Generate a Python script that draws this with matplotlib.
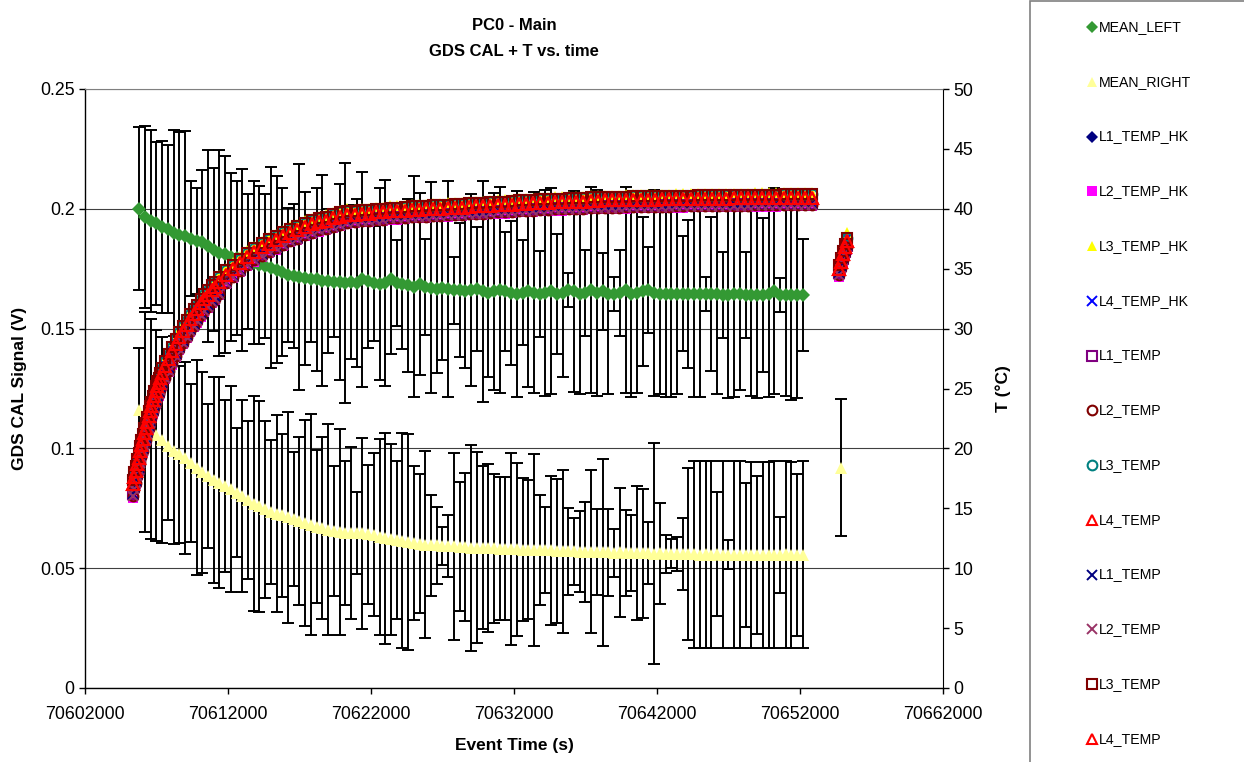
import numpy as np
import matplotlib
matplotlib.use("Agg")
import matplotlib.pyplot as plt
from matplotlib.lines import Line2D
from matplotlib.patches import Rectangle
from matplotlib.ticker import FuncFormatter, MultipleLocator

plt.rcParams['font.family'] = ['Liberation Sans', 'DejaVu Sans']

# ---------------- data ----------------
# GDS CAL means, sampled every 400 s starting at 70605800 s
mean_start = 70605800
mean_step = 400
mean_left = [
    0.200, 0.1965, 0.195, 0.194, 0.1925, 0.1915, 0.190, 0.189, 0.1885, 0.1875,
    0.1865, 0.186, 0.1845, 0.183, 0.1815, 0.181, 0.180, 0.1795, 0.1785, 0.178,
    0.1775, 0.1765, 0.176, 0.1755, 0.1745, 0.1735, 0.1725, 0.172, 0.1715, 0.171,
    0.1705, 0.1705, 0.170, 0.170, 0.1695, 0.1695, 0.169, 0.1695, 0.169, 0.1705,
    0.170, 0.169, 0.1685, 0.169, 0.1705, 0.169, 0.1685, 0.168, 0.1675, 0.1685,
    0.1675, 0.167, 0.1665, 0.167, 0.1665, 0.166, 0.166, 0.1655, 0.166, 0.1665,
    0.1655, 0.165, 0.1655, 0.166, 0.1655, 0.165, 0.1645, 0.165, 0.1655, 0.165,
    0.1645, 0.165, 0.1655, 0.1645, 0.165, 0.166, 0.1655, 0.1645, 0.165, 0.166,
    0.165, 0.1655, 0.1645, 0.1645, 0.165, 0.166, 0.1645, 0.165, 0.1655, 0.166,
    0.165, 0.1645, 0.1645, 0.1645, 0.1645, 0.1645, 0.1645, 0.1645, 0.1645, 0.1645,
    0.1645, 0.1645, 0.164, 0.164, 0.1645, 0.1645, 0.164, 0.164, 0.164, 0.164,
    0.1645, 0.1655, 0.164, 0.164, 0.164, 0.164, 0.164,
]
mean_left_err = [
    0.034, 0.038, 0.038, 0.034, 0.036, 0.035, 0.043, 0.043, 0.044, 0.024,
    0.022, 0.030, 0.040, 0.034, 0.043, 0.041, 0.035, 0.032, 0.038, 0.028,
    0.034, 0.033, 0.030, 0.042, 0.039, 0.035, 0.028, 0.030, 0.047, 0.036,
    0.026, 0.038, 0.044, 0.030, 0.023, 0.041, 0.050, 0.032, 0.035, 0.045,
    0.028, 0.024, 0.040, 0.043, 0.031, 0.018, 0.027, 0.036, 0.046, 0.038,
    0.020, 0.044, 0.035, 0.030, 0.045, 0.014, 0.028, 0.032, 0.040, 0.026,
    0.046, 0.035, 0.041, 0.043, 0.025, 0.030, 0.043, 0.022, 0.040, 0.042,
    0.018, 0.043, 0.043, 0.025, 0.035, 0.007, 0.042, 0.042, 0.018, 0.043,
    0.043, 0.016, 0.042, 0.007, 0.018, 0.043, 0.043, 0.042, 0.031, 0.018,
    0.043, 0.042, 0.043, 0.043, 0.042, 0.024, 0.031, 0.043, 0.043, 0.007,
    0.032, 0.042, 0.018, 0.043, 0.043, 0.040, 0.018, 0.042, 0.043, 0.032,
    0.043, 0.043, 0.007, 0.042, 0.044, 0.043, 0.0235,
]
mean_right = [
    0.116, 0.111, 0.108, 0.1055, 0.1035, 0.101, 0.099, 0.0975, 0.096, 0.094,
    0.092, 0.090, 0.0885, 0.087, 0.0857, 0.0843, 0.083, 0.0815, 0.080, 0.0785,
    0.077, 0.0758, 0.0746, 0.0735, 0.0728, 0.072, 0.0713, 0.0706, 0.0698, 0.069,
    0.0682, 0.0673, 0.0666, 0.066, 0.0655, 0.065, 0.0648, 0.0647, 0.0646, 0.0645,
    0.0642, 0.064, 0.063, 0.0625, 0.062, 0.0618, 0.0615, 0.061, 0.0605, 0.0602,
    0.0598, 0.0596, 0.0596, 0.0594, 0.0592, 0.0592, 0.059, 0.0588, 0.0586, 0.0586,
    0.0585, 0.0584, 0.0583, 0.0582, 0.0582, 0.0580, 0.0579, 0.0578, 0.0577, 0.0577,
    0.0575, 0.0576, 0.0574, 0.0572, 0.0571, 0.0570, 0.0570, 0.0569, 0.0568, 0.0568,
    0.0567, 0.0567, 0.0566, 0.0565, 0.0566, 0.0564, 0.0563, 0.0563, 0.0562, 0.0562,
    0.0561, 0.0562, 0.0560, 0.0560, 0.0559, 0.0558, 0.0559, 0.0558, 0.0557, 0.0558,
    0.0557, 0.0560, 0.0557, 0.0556, 0.0557, 0.0556, 0.0556, 0.0555, 0.0556, 0.0555,
    0.0555, 0.0556, 0.0555, 0.0558, 0.0555, 0.0555, 0.0556,
]
mean_right_err = [
    0.026, 0.046, 0.046, 0.044, 0.043, 0.031, 0.039, 0.037, 0.040, 0.033,
    0.045, 0.042, 0.030, 0.043, 0.044, 0.036, 0.043, 0.027, 0.040, 0.033,
    0.045, 0.044, 0.037, 0.030, 0.041, 0.034, 0.044, 0.028, 0.035, 0.043,
    0.046, 0.032, 0.038, 0.044, 0.027, 0.043, 0.030, 0.036, 0.017, 0.040,
    0.029, 0.034, 0.041, 0.044, 0.040, 0.033, 0.045, 0.045, 0.032, 0.029,
    0.039, 0.021, 0.016, 0.008, 0.013, 0.039, 0.027, 0.031, 0.043, 0.040,
    0.034, 0.035, 0.031, 0.030, 0.030, 0.040, 0.036, 0.030, 0.029, 0.040,
    0.023, 0.018, 0.031, 0.030, 0.034, 0.018, 0.014, 0.017, 0.021, 0.034,
    0.018, 0.039, 0.018, 0.010, 0.027, 0.018, 0.016, 0.028, 0.027, 0.013,
    0.046, 0.021, 0.008, 0.006, 0.007, 0.015, 0.036, 0.039, 0.039, 0.039,
    0.039, 0.026, 0.039, 0.006, 0.039, 0.039, 0.030, 0.039, 0.033, 0.039,
    0.039, 0.039, 0.016, 0.039, 0.039, 0.034, 0.039,
]
# isolated late MEAN_RIGHT point
late_time = [70654870]
late_right = [0.092]
late_right_err = [0.0285]

# temperature samples: offsets (s) from 70605350, then a short late segment
temp_start = 70605350
temp_offsets = np.concatenate([np.arange(0, 2001, 100),
                               np.arange(2250, 6001, 250),
                               np.arange(6500, 47501, 500)])
temp_late_times = [70654700, 70654850, 70655000, 70655150, 70655300]

t_L1_hk = [16.3, 16.9, 17.4, 18.0, 18.5, 19.1, 19.6, 20.1, 20.6, 21.0, 21.5, 22.0, 22.4, 22.8, 23.3, 23.7, 24.1, 24.5, 24.8, 25.2, 25.6,
           26.2, 26.8, 27.4, 28.0, 28.6, 29.1, 29.6, 30.1, 30.5, 30.9, 31.4, 31.8, 32.1, 32.5, 32.8, 33.2,
           34.0, 34.5, 35.0, 35.5, 35.9, 36.3, 36.6, 36.9, 37.2, 37.5, 37.7, 38.0, 38.2, 38.4, 38.5, 38.7, 38.85, 39.0,
           39.1, 39.2, 39.2, 39.3, 39.3, 39.4, 39.4, 39.45, 39.5, 39.5, 39.55, 39.6, 39.6, 39.65, 39.7, 39.7, 39.75, 39.8, 39.8,
           39.85, 39.9, 39.9, 39.95, 40.0, 40.0, 40.05, 40.1, 40.1, 40.15, 40.15, 40.2, 40.2, 40.2, 40.25, 40.25, 40.3, 40.3,
           40.3, 40.32, 40.33, 40.35, 40.36, 40.37, 40.38, 40.39, 40.4, 40.4, 40.41, 40.42, 40.43, 40.44, 40.45, 40.45, 40.46, 40.47, 40.47, 40.48, 40.48, 40.49, 40.49, 40.5, 40.5, 40.5, 40.5, 40.5,
           34.7, 35.3, 35.9, 36.5, 37.0]
t_L2_hk = [15.9, 16.5, 17.0, 17.6, 18.1, 18.7, 19.2, 19.7, 20.2, 20.6, 21.1, 21.6, 22.0, 22.4, 22.9, 23.3, 23.7, 24.1, 24.4, 24.8, 25.2,
           25.8, 26.4, 27.0, 27.6, 28.2, 28.7, 29.2, 29.7, 30.1, 30.5, 31.0, 31.4, 31.7, 32.1, 32.4, 32.8,
           33.7, 34.2, 34.7, 35.2, 35.6, 36.0, 36.3, 36.6, 36.9, 37.2, 37.4, 37.7, 37.9, 38.1, 38.2, 38.4, 38.55, 38.7,
           38.8, 38.9, 38.9, 39.0, 39.0, 39.1, 39.1, 39.15, 39.2, 39.2, 39.25, 39.3, 39.3, 39.35, 39.4, 39.4, 39.45, 39.5, 39.5,
           39.55, 39.6, 39.6, 39.65, 39.7, 39.7, 39.75, 39.8, 39.8, 39.85, 39.85, 39.9, 39.9, 39.9, 39.95, 39.95, 40.0, 40.0,
           40.0, 40.02, 40.03, 40.05, 40.06, 40.07, 40.08, 40.09, 40.1, 40.1, 40.11, 40.12, 40.13, 40.14, 40.15, 40.15, 40.16, 40.17, 40.17, 40.18, 40.18, 40.19, 40.19, 40.2, 40.2, 40.2, 40.2, 40.2,
           34.3, 34.9, 35.5, 36.1, 36.6]
t_L3_hk = [17.5, 18.1, 18.6, 19.2, 19.7, 20.3, 20.8, 21.3, 21.8, 22.2, 22.7, 23.2, 23.6, 24.0, 24.5, 24.9, 25.3, 25.7, 26.0, 26.4, 26.8,
           27.4, 28.0, 28.6, 29.2, 29.8, 30.3, 30.8, 31.3, 31.7, 32.1, 32.6, 33.0, 33.3, 33.7, 34.0, 34.4,
           34.95, 35.45, 35.95, 36.45, 36.85, 37.25, 37.55, 37.85, 38.15, 38.45, 38.65, 38.95, 39.15, 39.35, 39.45, 39.65, 39.8, 39.95,
           39.9, 40.0, 40.0, 40.1, 40.1, 40.2, 40.2, 40.25, 40.3, 40.3, 40.35, 40.4, 40.4, 40.45, 40.5, 40.5, 40.55, 40.6, 40.6,
           40.65, 40.7, 40.7, 40.75, 40.8, 40.8, 40.85, 40.9, 40.9, 40.95, 40.95, 41.0, 41.0, 41.0, 41.05, 41.05, 41.1, 41.1,
           41.1, 41.12, 41.13, 41.15, 41.16, 41.17, 41.18, 41.19, 41.2, 41.2, 41.21, 41.22, 41.23, 41.24, 41.25, 41.25, 41.26, 41.27, 41.27, 41.28, 41.28, 41.29, 41.29, 41.3, 41.3, 41.3, 41.3, 41.3,
           35.5, 36.1, 36.7, 37.3, 38.0]
t_L4_hk = [17.2, 17.8, 18.3, 18.9, 19.4, 20.0, 20.5, 21.0, 21.5, 21.9, 22.4, 22.9, 23.3, 23.7, 24.2, 24.6, 25.0, 25.4, 25.7, 26.1, 26.5,
           27.0, 27.6, 28.2, 28.8, 29.3, 29.8, 30.3, 30.8, 31.2, 31.6, 32.0, 32.4, 32.7, 33.1, 33.4, 33.7,
           34.3, 34.8, 35.3, 35.8, 36.2, 36.6, 36.9, 37.2, 37.5, 37.8, 38.0, 38.3, 38.5, 38.7, 38.8, 39.0, 39.15, 39.3,
           39.2, 39.3, 39.3, 39.4, 39.4, 39.5, 39.5, 39.55, 39.6, 39.6, 39.65, 39.7, 39.7, 39.75, 39.8, 39.8, 39.85, 39.9, 39.9,
           39.95, 40.0, 40.0, 40.05, 40.1, 40.1, 40.15, 40.2, 40.2, 40.25, 40.25, 40.3, 40.3, 40.3, 40.35, 40.35, 40.4, 40.4,
           40.4, 40.42, 40.43, 40.45, 40.46, 40.47, 40.48, 40.49, 40.5, 40.5, 40.51, 40.52, 40.53, 40.54, 40.55, 40.55, 40.56, 40.57, 40.57, 40.58, 40.58, 40.59, 40.59, 40.6, 40.6, 40.6, 40.6, 40.6,
           35.2, 35.8, 36.4, 37.0, 37.6]
t_L1 = [16.2, 16.8, 17.3, 17.9, 18.4, 19.0, 19.5, 20.0, 20.5, 20.9, 21.4, 21.9, 22.3, 22.7, 23.2, 23.6, 24.0, 24.4, 24.7, 25.1, 25.5,
        26.1, 26.7, 27.3, 27.9, 28.5, 29.0, 29.5, 30.0, 30.4, 30.8, 31.3, 31.7, 32.0, 32.4, 32.7, 33.1,
        33.9, 34.4, 34.9, 35.4, 35.8, 36.2, 36.5, 36.8, 37.1, 37.4, 37.6, 37.9, 38.1, 38.3, 38.4, 38.6, 38.75, 38.9,
        39.0, 39.1, 39.1, 39.2, 39.2, 39.3, 39.3, 39.35, 39.4, 39.4, 39.45, 39.5, 39.5, 39.55, 39.6, 39.6, 39.65, 39.7, 39.7,
        39.75, 39.8, 39.8, 39.85, 39.9, 39.9, 39.95, 40.0, 40.0, 40.05, 40.05, 40.1, 40.1, 40.1, 40.15, 40.15, 40.2, 40.2,
        40.2, 40.22, 40.23, 40.25, 40.26, 40.27, 40.28, 40.29, 40.3, 40.3, 40.31, 40.32, 40.33, 40.34, 40.35, 40.35, 40.36, 40.37, 40.37, 40.38, 40.38, 40.39, 40.39, 40.4, 40.4, 40.4, 40.4, 40.4,
        34.6, 35.2, 35.8, 36.4, 36.9]
t_L2 = [16.0, 16.6, 17.1, 17.7, 18.2, 18.8, 19.3, 19.8, 20.3, 20.7, 21.2, 21.7, 22.1, 22.5, 23.0, 23.4, 23.8, 24.2, 24.5, 24.9, 25.3,
        25.9, 26.5, 27.1, 27.7, 28.3, 28.8, 29.3, 29.8, 30.2, 30.6, 31.1, 31.5, 31.8, 32.2, 32.5, 32.9,
        33.8, 34.3, 34.8, 35.3, 35.7, 36.1, 36.4, 36.7, 37.0, 37.3, 37.5, 37.8, 38.0, 38.2, 38.3, 38.5, 38.65, 38.8,
        38.9, 39.0, 39.0, 39.1, 39.1, 39.2, 39.2, 39.25, 39.3, 39.3, 39.35, 39.4, 39.4, 39.45, 39.5, 39.5, 39.55, 39.6, 39.6,
        39.65, 39.7, 39.7, 39.75, 39.8, 39.8, 39.85, 39.9, 39.9, 39.95, 39.95, 40.0, 40.0, 40.0, 40.05, 40.05, 40.1, 40.1,
        40.1, 40.12, 40.13, 40.15, 40.16, 40.17, 40.18, 40.19, 40.2, 40.2, 40.21, 40.22, 40.23, 40.24, 40.25, 40.25, 40.26, 40.27, 40.27, 40.28, 40.28, 40.29, 40.29, 40.3, 40.3, 40.3, 40.3, 40.3,
        34.5, 35.1, 35.7, 36.3, 36.8]
t_L3 = [17.4, 18.0, 18.5, 19.1, 19.6, 20.2, 20.7, 21.2, 21.7, 22.1, 22.6, 23.1, 23.5, 23.9, 24.4, 24.8, 25.2, 25.6, 25.9, 26.3, 26.7,
        27.3, 27.9, 28.5, 29.1, 29.7, 30.2, 30.7, 31.2, 31.6, 32.0, 32.5, 32.9, 33.2, 33.6, 33.9, 34.3,
        34.85, 35.35, 35.85, 36.35, 36.75, 37.15, 37.45, 37.75, 38.05, 38.35, 38.55, 38.85, 39.05, 39.25, 39.35, 39.55, 39.7, 39.85,
        39.8, 39.9, 39.9, 40.0, 40.0, 40.1, 40.1, 40.15, 40.2, 40.2, 40.25, 40.3, 40.3, 40.35, 40.4, 40.4, 40.45, 40.5, 40.5,
        40.55, 40.6, 40.6, 40.65, 40.7, 40.7, 40.75, 40.8, 40.8, 40.85, 40.85, 40.9, 40.9, 40.9, 40.95, 40.95, 41.0, 41.0,
        41.0, 41.02, 41.03, 41.05, 41.06, 41.07, 41.08, 41.09, 41.1, 41.1, 41.11, 41.12, 41.13, 41.14, 41.15, 41.15, 41.16, 41.17, 41.17, 41.18, 41.18, 41.19, 41.19, 41.2, 41.2, 41.2, 41.2, 41.2,
        35.3, 35.9, 36.5, 37.1, 37.6]
t_L4 = [17.0, 17.6, 18.1, 18.7, 19.2, 19.8, 20.3, 20.8, 21.3, 21.7, 22.2, 22.7, 23.1, 23.5, 24.0, 24.4, 24.8, 25.2, 25.5, 25.9, 26.3,
        26.9, 27.5, 28.1, 28.7, 29.3, 29.8, 30.3, 30.8, 31.2, 31.6, 32.1, 32.5, 32.8, 33.2, 33.5, 33.9,
        34.5, 35.0, 35.5, 36.0, 36.4, 36.8, 37.1, 37.4, 37.7, 38.0, 38.2, 38.5, 38.7, 38.9, 39.0, 39.2, 39.35, 39.5,
        39.5, 39.6, 39.6, 39.7, 39.7, 39.8, 39.8, 39.85, 39.9, 39.9, 39.95, 40.0, 40.0, 40.05, 40.1, 40.1, 40.15, 40.2, 40.2,
        40.25, 40.3, 40.3, 40.35, 40.4, 40.4, 40.45, 40.5, 40.5, 40.55, 40.55, 40.6, 40.6, 40.6, 40.65, 40.65, 40.7, 40.7,
        40.7, 40.72, 40.73, 40.75, 40.76, 40.77, 40.78, 40.79, 40.8, 40.8, 40.81, 40.82, 40.83, 40.84, 40.85, 40.85, 40.86, 40.87, 40.87, 40.88, 40.88, 40.89, 40.89, 40.9, 40.9, 40.9, 40.9, 40.9,
        35.0, 35.6, 36.2, 36.8, 37.3]

x_ticks = [70602000, 70612000, 70622000, 70632000, 70642000, 70652000, 70662000]
title_lines = ["PC0 - Main", "GDS CAL + T vs. time"]

# ---------------- figure ----------------
W, H = 1244, 762
fig = plt.figure(figsize=(W / 100, H / 100), dpi=100)
fig.patch.set_facecolor('white')
L, R, T, B = 85, 943, 89, 688
ax = fig.add_axes([L / W, 1 - B / H, (R - L) / W, (B - T) / H])

mean_time = mean_start + mean_step * np.arange(len(mean_left))
temp_time = np.concatenate([temp_start + temp_offsets, temp_late_times])

# errorbars + means (left axis)
ax.errorbar(mean_time, mean_left, yerr=mean_left_err, fmt='none', ecolor='black',
            elinewidth=1.4, capsize=4.2, capthick=1.4, zorder=2)
ax.plot(mean_time, mean_left, 'D', color='#339933', markersize=7, markeredgewidth=0, zorder=3)
ax.errorbar(list(mean_time) + late_time, mean_right + late_right,
            yerr=mean_right_err + late_right_err, fmt='none', ecolor='black',
            elinewidth=1.4, capsize=4.2, capthick=1.4, zorder=4)
ax.plot(list(mean_time) + late_time, mean_right + late_right, '^', color='#FFFF99',
        markersize=8.5, markeredgewidth=0, zorder=5)

ax.set_xlim(70602000, 70662000)
ax.set_ylim(0, 0.25)
ax.set_xticks(x_ticks)
ax.xaxis.set_major_formatter(FuncFormatter(lambda v, p: '%d' % round(v)))
ax.yaxis.set_major_locator(MultipleLocator(0.05))
ax.yaxis.set_major_formatter(FuncFormatter(lambda v, p: ('%g' % round(v, 2))))
ax.yaxis.grid(True, color='#000000', linewidth=0.8, alpha=0.75)
ax.set_axisbelow(True)

for s in ['left', 'bottom']:
    ax.spines[s].set_color('black')
    ax.spines[s].set_linewidth(1.0)
ax.spines['top'].set_color('#808080')
ax.spines['right'].set_color('black')
ax.tick_params(axis='both', direction='out', length=4, width=1, labelsize=12.8, colors='black')
ax.tick_params(axis='x', pad=9)

ax.set_xlabel('Event Time (s)', fontsize=12.5, fontweight='bold')
ax.xaxis.set_label_coords(0.5, -(738 - B) / (B - T))
ax.set_ylabel('GDS CAL Signal (V)', fontsize=12.5, fontweight='bold')
ax.yaxis.set_label_coords(-(L - 27) / (R - L), 0.5)

# temperatures (right axis)
ax2 = ax.twinx()
ax2.set_ylim(0, 50)
ax2.yaxis.set_major_locator(MultipleLocator(5))
ax2.yaxis.set_major_formatter(FuncFormatter(lambda v, p: '%d' % round(v)))
ax2.tick_params(axis='y', direction='out', length=4, width=1, labelsize=12.8)
ax2.set_ylabel('T (°C)', fontsize=12.5, fontweight='bold', rotation=90)
ax2.yaxis.set_label_coords((995 - L) / (R - L), 0.5)
for s in ax2.spines.values():
    s.set_visible(False)

ms = 7
series = [
    ('L1_TEMP_HK', t_L1_hk, dict(marker='D', color='#000080', markersize=ms - 0.5, markeredgewidth=0)),
    ('L2_TEMP_HK', t_L2_hk, dict(marker='s', color='#FF00FF', markersize=ms, markeredgewidth=0)),
    ('L3_TEMP_HK', t_L3_hk, dict(marker='^', color='#FFFF00', markersize=ms + 1, markeredgewidth=0)),
    ('L4_TEMP_HK', t_L4_hk, dict(marker='x', color='#0000FF', markersize=ms, markeredgewidth=1.4)),
    ('L1_TEMP', t_L1, dict(marker='s', markerfacecolor='none', markeredgecolor='#800080', markersize=ms, markeredgewidth=1.5)),
    ('L2_TEMP', t_L2, dict(marker='o', markerfacecolor='none', markeredgecolor='#800000', markersize=ms, markeredgewidth=1.5)),
    ('L3_TEMP', t_L3, dict(marker='o', markerfacecolor='none', markeredgecolor='#008080', markersize=ms, markeredgewidth=1.5)),
    ('L4_TEMP', t_L4, dict(marker='^', markerfacecolor='none', markeredgecolor='#FF0000', markersize=ms + 1, markeredgewidth=1.5)),
    ('L1_TEMP', t_L1, dict(marker='x', color='#000080', markersize=ms, markeredgewidth=1.4)),
    ('L2_TEMP', t_L2, dict(marker='x', color='#993366', markersize=ms, markeredgewidth=1.4)),
    ('L3_TEMP', t_L3, dict(marker='s', markerfacecolor='none', markeredgecolor='#800000', markersize=ms, markeredgewidth=1.5)),
    ('L4_TEMP', t_L4, dict(marker='^', markerfacecolor='none', markeredgecolor='#FF0000', markersize=ms + 1, markeredgewidth=1.5)),
]
for name, vals, st in series:
    ax2.plot(temp_time, vals, linestyle='none', **st)

# ---------------- title ----------------
cx = (L + R) / 2 / W
fig.text(cx, 1 - 26 / H, title_lines[0], ha='center', va='center', fontsize=12, fontweight='bold')
fig.text(cx, 1 - 52 / H, title_lines[1], ha='center', va='center', fontsize=12, fontweight='bold')

# ---------------- legend (right panel) ----------------
fig.patches.append(Rectangle((1030 / W, -0.05), 0.3, 1.05 - 1 / H, transform=fig.transFigure,
                             facecolor='white', edgecolor='#808080', linewidth=1.2, zorder=0))
legend_items = [
    ('MEAN_LEFT', dict(marker='D', color='#339933', markersize=6.5, markeredgewidth=0)),
    ('MEAN_RIGHT', dict(marker='^', color='#FFFF99', markersize=8, markeredgewidth=0)),
] + [(n, st) for n, v, st in series]
for i, (name, st) in enumerate(legend_items):
    yy = 1 - (27 + 54.75 * i) / H
    st2 = dict(st)
    st2['markersize'] = min(st2.get('markersize', 6), 7.5)
    fig.add_artist(Line2D([1092 / W], [yy], linestyle='none', transform=fig.transFigure, **st2))
    fig.text(1099 / W, yy, name, ha='left', va='center', fontsize=10.2)

fig.savefig('out.png', dpi=100, facecolor='white')
